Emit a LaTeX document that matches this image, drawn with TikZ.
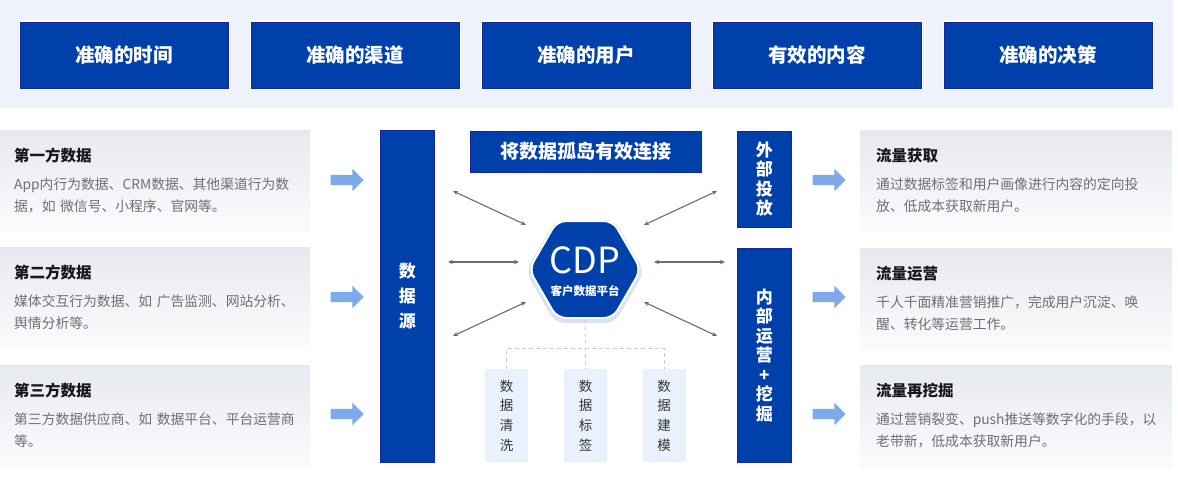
\documentclass[tikz,border=0pt]{standalone}
\usepackage{fontspec}
\setmainfont{Noto Sans CJK SC}
\usetikzlibrary{shapes.geometric,shapes.arrows,arrows.meta,shadows}
\definecolor{deepblue}{HTML}{0040AA}
\definecolor{edgeblue}{HTML}{1426A0}
\definecolor{topband}{HTML}{EEF2FB}
\definecolor{arrowblue}{HTML}{7EAAEC}
\definecolor{tagfill}{HTML}{E9F1FC}
\definecolor{linkgray}{HTML}{6C6C6C}
\definecolor{dashgray}{HTML}{C9C9C9}
\definecolor{cardtop}{HTML}{E6E9EE}
\definecolor{cardbottom}{HTML}{FAFBFC}
\definecolor{titletext}{HTML}{16181D}
\definecolor{bodytext}{HTML}{6B6F77}
\newcommand\cardtitle[1]{{\fontsize{15.5}{18}\selectfont\bfseries\color{titletext}#1}}

\begin{document}
\begin{tikzpicture}[x=1pt,y=-1pt,
  goal/.style={fill=deepblue,draw=edgeblue,line width=0.8pt,text=white,minimum width=208,minimum height=66,inner sep=0,
    font=\fontsize{19.5}{22}\selectfont\bfseries,preaction={draw=white,line width=3pt}},
  bar/.style={fill=deepblue,draw=edgeblue,line width=0.6pt,text=white,inner sep=0,align=center,anchor=north west,
    font=\fontsize{17}{19.5}\selectfont\bfseries},
  card/.style={top color=cardtop,bottom color=cardbottom,draw=none,minimum height=100,align=left,anchor=north west,
    text=bodytext,font=\fontsize{13.8}{22}\selectfont,
    drop shadow={shadow xshift=0pt,shadow yshift=-2pt,opacity=0.035,fill=black}},
  srccard/.style={card,minimum width=310,text width=282,inner xsep=14},
  usecard/.style={card,minimum width=312,text width=280,inner xsep=16},
  flow/.style={single arrow,fill=arrowblue,draw=none,minimum height=33,inner sep=5,single arrow head extend=6},
  tag/.style={fill=tagfill,minimum width=43,minimum height=93,inner sep=0,align=center,text=black!80,
    font=\fontsize{13.5}{19.7}\selectfont},
  link/.style={draw=linkgray,line width=1.1pt,>={Stealth[length=5pt,width=4.5pt]},<->},
  dashline/.style={draw=dashgray,line width=0.8pt,dash pattern=on 4pt off 3pt}]
  \useasboundingbox (0,0) rectangle (1178,495);
  \fill[white] (0,0) rectangle (1178,495);
  % top band
  \fill[topband] (0,0) rectangle (1173,108);
  \foreach \t [count=\i] in {准确的时间,准确的渠道,准确的用户,有效的内容,准确的决策}
    \node[goal] (goal\i) at ({124+231*(\i-1)},55) {\t};

  % data sources
  \node[srccard] (src1) at (0,130) {\cardtitle{第一方数据}\\[6pt]App内行为数据、CRM数据、其他渠道行为数\\据，如 微信号、小程序、官网等。};
  \node[srccard] (src2) at (0,247) {\cardtitle{第二方数据}\\[6pt]媒体交互行为数据、如 广告监测、网站分析、\\舆情分析等。};
  \node[srccard] (src3) at (0,365) {\cardtitle{第三方数据}\\[6pt]第三方数据供应商、如 数据平台、平台运营商\\等。};

  % uses
  \node[usecard] (use1) at (860,130) {\cardtitle{流量获取}\\[6pt]通过数据标签和用户画像进行内容的定向投\\放、低成本获取新用户。};
  \node[usecard] (use2) at (860,248) {\cardtitle{流量运营}\\[6pt]千人千面精准营销推广，完成用户沉淀、唤\\醒、转化等运营工作。};
  \node[usecard] (use3) at (860,365) {\cardtitle{流量再挖掘}\\[6pt]通过营销裂变、push推送等数字化的手段，以\\老带新，低成本获取新用户。};

  \foreach \y [count=\i] in {180,297,414} {
    \node[flow] (in\i) at (344.5,\y) {};
    \node[flow] (out\i) at (826.5,\y) {};
  }

  % bars
  \node[bar,minimum width=54,minimum height=332,font=\fontsize{17}{25}\selectfont\bfseries] (source) at (380,130) {数\\据\\源};
  \node[bar,minimum width=231,minimum height=41,font=\fontsize{19}{22}\selectfont\bfseries] (connect) at (470,131) {将数据孤岛有效连接};
  \node[bar,minimum width=54,minimum height=96] (outer) at (737,131) {外\\部\\投\\放};
  \node[bar,minimum width=54,minimum height=214] (inner) at (737,248) {内\\部\\运\\营\\+\\挖\\掘};

  % CDP
  \node[regular polygon,regular polygon sides=6,minimum size=112,inner sep=0,rounded corners=9,fill=deepblue,
    draw=white,line width=2pt,drop shadow={shadow xshift=0pt,shadow yshift=-2pt,shadow scale=1.06,opacity=0.15,fill=deepblue}]
    (cdp) at (585,269.5) {};
  \node[text=white,font=\fontsize{36}{36}\selectfont] (cdpname) at (585,260.5) {CDP};
  \node[text=white,font=\fontsize{11.5}{12}\selectfont\bfseries] (cdpsub) at (585,291) {客户数据平台};

  \foreach \ax/\ay/\bx/\by [count=\i] in {453/191/526/225,448/262/519/262,453/336/526/302,
      717/191/644/225,725/262/654/262,717/336/644/302} {
    \coordinate (la\i) at (\ax,\ay);
    \coordinate (lb\i) at (\bx,\by);
    \draw[link] (la\i) -- (lb\i);
  }

  % processing steps
  \node[tag] (tag1) at (506.5,415.5) {数\\据\\清\\洗};
  \node[tag] (tag2) at (585.5,415.5) {数\\据\\标\\签};
  \node[tag] (tag3) at (664,415.5) {数\\据\\建\\模};
  \draw[dashline] (cdp.south) -- (tag2.north);
  \draw[dashline] (tag1.north) -- ++(0,-20) -| (tag3.north);
\end{tikzpicture}
\end{document}
